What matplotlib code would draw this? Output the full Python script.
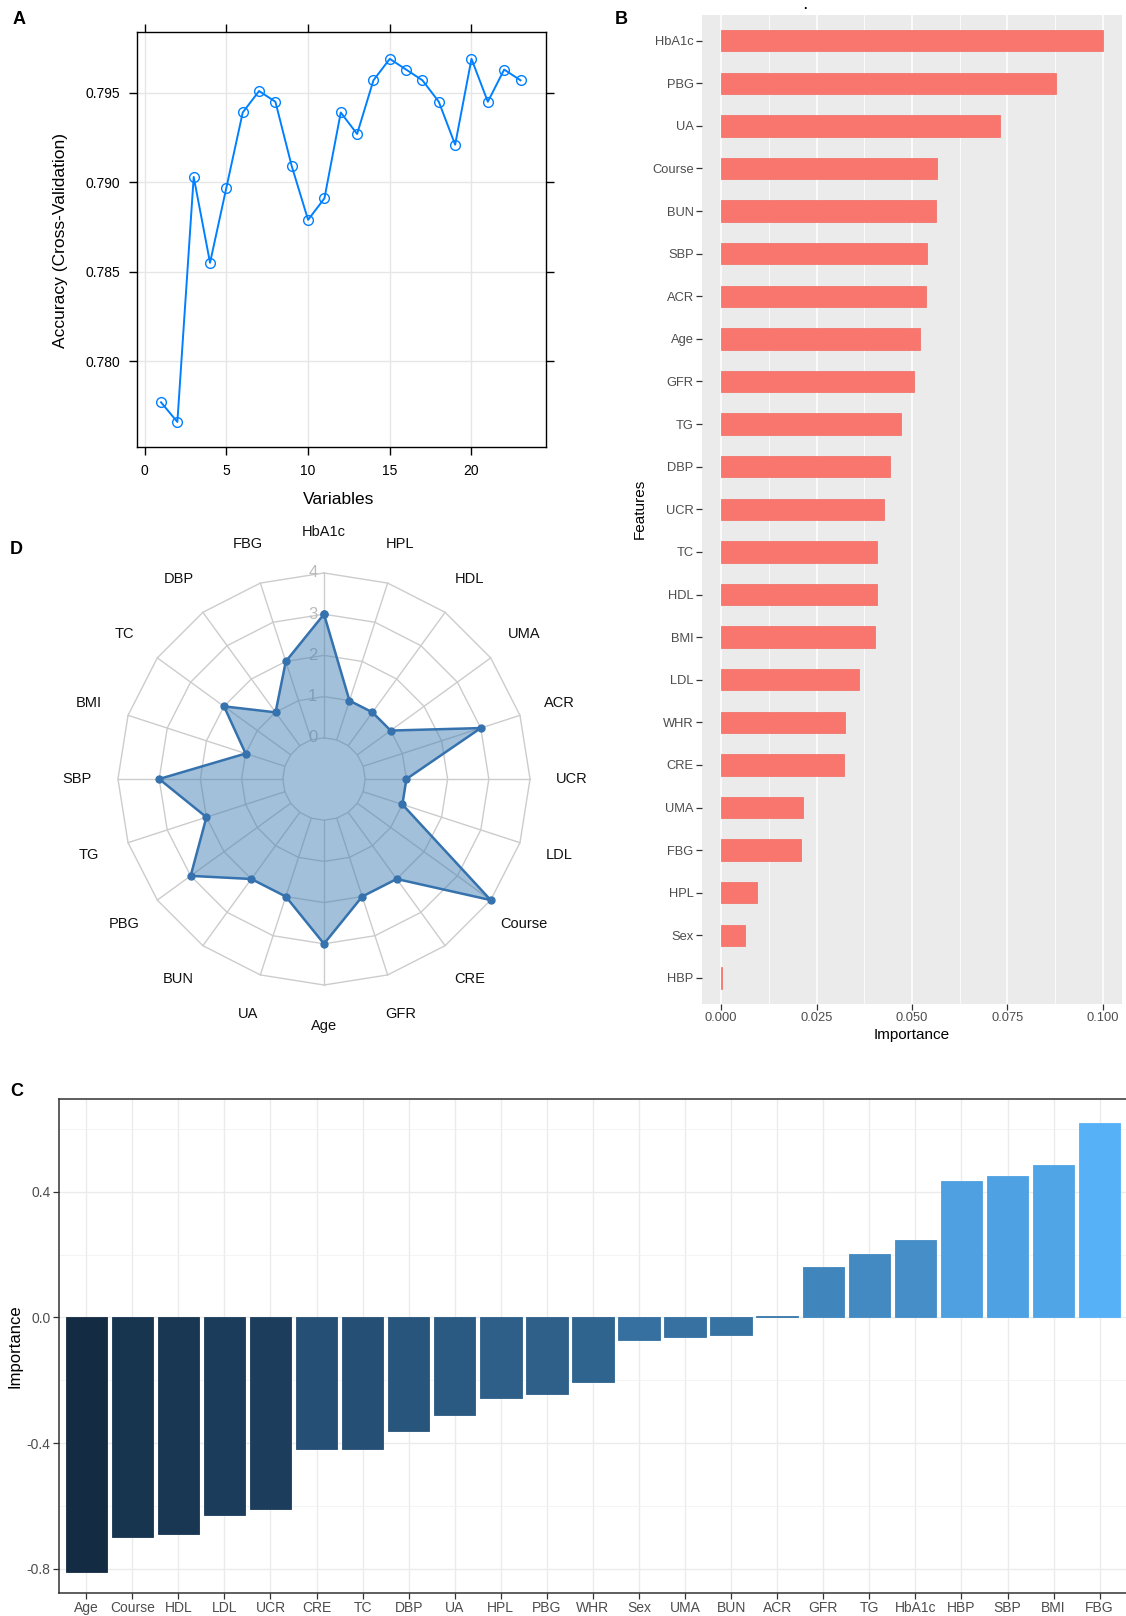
import numpy as np
import matplotlib
matplotlib.use("Agg")
import matplotlib.pyplot as plt
from matplotlib.colors import LinearSegmentedColormap
from matplotlib.ticker import MultipleLocator, FormatStrFormatter

plt.rcParams['font.family'] = ['Liberation Sans', 'DejaVu Sans']
plt.rcParams['axes.unicode_minus'] = False

# ---------------- data ----------------
# A: recursive feature elimination, accuracy vs. number of variables
n_vars = list(range(1, 24))
cv_accuracy = [0.7777, 0.7766, 0.7903, 0.7855, 0.7897, 0.7939, 0.7951, 0.7945,
               0.7909, 0.7879, 0.7891, 0.7939, 0.7927, 0.7957, 0.7969, 0.7963,
               0.7957, 0.7945, 0.7921, 0.7969, 0.7945, 0.7963, 0.7957]

# B: random forest importance
rf_features = ['HbA1c', 'PBG', 'UA', 'Course', 'BUN', 'SBP', 'ACR', 'Age', 'GFR',
               'TG', 'DBP', 'UCR', 'TC', 'HDL', 'BMI', 'LDL', 'WHR', 'CRE', 'UMA',
               'FBG', 'HPL', 'Sex', 'HBP']
rf_importance = [0.1000, 0.0877, 0.0730, 0.0565, 0.0563, 0.0540, 0.0537, 0.0521,
                 0.0504, 0.0472, 0.0442, 0.0426, 0.0409, 0.0409, 0.0403, 0.0361,
                 0.0324, 0.0321, 0.0215, 0.0209, 0.0095, 0.0063, 0.0003]

# D: radar of selection scores
radar_axes = ['HbA1c', 'HPL', 'HDL', 'UMA', 'ACR', 'UCR', 'LDL', 'Course', 'CRE',
              'GFR', 'Age', 'UA', 'BUN', 'PBG', 'TG', 'SBP', 'BMI', 'TC', 'DBP', 'FBG']
radar_scores = [3, 1, 1, 1, 3, 1, 1, 4, 2, 2, 3, 2, 2, 3, 2, 3, 1, 2, 1, 2]
radar_levels = [0, 1, 2, 3, 4]

# C: signed importance (coefficients)
coef_features = ['Age', 'Course', 'HDL', 'LDL', 'UCR', 'CRE', 'TC', 'DBP', 'UA',
                 'HPL', 'PBG', 'WHR', 'Sex', 'UMA', 'BUN', 'ACR', 'GFR', 'TG',
                 'HbA1c', 'HBP', 'SBP', 'BMI', 'FBG']
coef_values = [-0.81, -0.70, -0.69, -0.63, -0.61, -0.42, -0.42, -0.36, -0.31,
               -0.255, -0.245, -0.205, -0.072, -0.062, -0.055, 0.005, 0.16, 0.203,
               0.248, 0.434, 0.449, 0.485, 0.618]

# ---------------- layout helpers ----------------
W, H = 1126, 1616
fig = plt.figure(figsize=(W / 100, H / 100), dpi=100)


def rect(x0, y0, x1, y1):
    return [x0 / W, 1 - y1 / H, (x1 - x0) / W, (y1 - y0) / H]


def ftext(x, y, s, **kw):
    fig.text(x / W, 1 - y / H, s, **kw)


# ---------------- A ----------------
axA = fig.add_axes(rect(137, 32, 546, 447))
axA.plot(n_vars, cv_accuracy, color='#0080FF', lw=1.4, marker='o', ms=7,
         mfc='none', mec='#0080FF', mew=1.0, zorder=3)
axA.set_xlim(-0.47, 24.56)
axA.set_ylim(0.7752, 0.7984)
axA.set_xticks([0, 5, 10, 15, 20])
axA.set_yticks([0.780, 0.785, 0.790, 0.795])
axA.yaxis.set_major_formatter(FormatStrFormatter('%.3f'))
axA.grid(True, color='#E6E6E6', lw=1.0)
axA.set_axisbelow(True)
axA.tick_params(direction='out', length=6, width=1, top=True, right=True,
                labelsize=10, pad=6, colors='black')
for s in axA.spines.values():
    s.set_color('black')
    s.set_linewidth(1.0)
ftext(339, 500, 'Variables', fontsize=12.5, ha='center', va='center')
ftext(61, 240, 'Accuracy (Cross-Validation)', fontsize=12.5, ha='center',
      va='center', rotation=90)

# ---------------- B ----------------
axB = fig.add_axes(rect(702, 15.1, 1122, 1003.5))
axB.set_facecolor('#EBEBEB')
ypos = np.arange(len(rf_features))[::-1]
axB.barh(ypos, rf_importance, height=0.5, color='#F8766D', edgecolor='#F26B62',
         lw=0.5, zorder=3)
axB.set_ylim(-0.6, len(rf_features) - 0.4)
axB.set_xlim(-0.005, 0.105)
axB.set_yticks(ypos)
axB.set_yticklabels(rf_features)
axB.xaxis.set_major_locator(MultipleLocator(0.025))
axB.xaxis.set_minor_locator(MultipleLocator(0.0125))
axB.xaxis.set_major_formatter(FormatStrFormatter('%.3f'))
axB.grid(True, which='major', axis='x', color='white', lw=1.1)
axB.grid(True, which='minor', axis='x', color='white', lw=0.55)
axB.set_axisbelow(True)
for s in axB.spines.values():
    s.set_visible(False)
axB.tick_params(which='major', length=4, width=0.9, color='#333333',
                labelcolor='#4D4D4D', labelsize=9.3, pad=2)
axB.tick_params(which='minor', length=0)
ftext(912, 1035, 'Importance', fontsize=11, ha='center', va='center')
ftext(640, 509, 'Features', fontsize=11, ha='center', va='center', rotation=90)
ftext(805, 9, '.', fontsize=9, ha='center', va='baseline', fontweight='bold')

# ---------------- D (radar) ----------------
axD = fig.add_axes(rect(24, 509, 624, 1049))
axD.set_xlim(-7.28, 7.28)
axD.set_ylim(-6.553, 6.553)
axD.axis('off')
n_ax = len(radar_axes)
theta = 2 * np.pi * np.arange(n_ax) / n_ax
theta_c = np.append(theta, theta[0])
offset = 1.0  # radial offset so that level 0 sits away from the centre

for lvl in radar_levels:
    r = lvl + offset
    axD.plot(r * np.sin(theta_c), r * np.cos(theta_c), color='#CCCCCC', lw=1.0,
             zorder=1)
r_in, r_out = radar_levels[0] + offset, radar_levels[-1] + offset
for t in theta:
    axD.plot([r_in * np.sin(t), r_out * np.sin(t)],
             [r_in * np.cos(t), r_out * np.cos(t)], color='#CCCCCC', lw=1.0,
             zorder=1)

# level numbers sit underneath the filled polygon
for lvl in radar_levels:
    axD.text(-0.27, lvl + offset, str(lvl), color='#BBBBBB', fontsize=12,
             ha='center', va='center', zorder=1.5)

rs = np.array(radar_scores + radar_scores[:1], dtype=float) + offset
axD.fill(rs * np.sin(theta_c), rs * np.cos(theta_c), color='#4682B4', alpha=0.5,
         lw=0, zorder=2)
axD.plot(rs * np.sin(theta_c), rs * np.cos(theta_c), color='#3572AE', lw=1.8,
         marker='o', ms=5, zorder=3)

r_lab = 1.2 * r_out
for name, t in zip(radar_axes, theta):
    axD.text(r_lab * np.sin(t), r_lab * np.cos(t), name, fontsize=10.5,
             ha='center', va='center', color='#111111')

# ---------------- C ----------------
axC = fig.add_axes(rect(58.6, 1099.4, 1127.3, 1593))
cmap = LinearSegmentedColormap.from_list('ggblue', ['#132B43', '#56B1F7'])
vals = np.array(coef_values)
frac = (vals - vals.min()) / (vals.max() - vals.min())
xs = np.arange(len(coef_features))
cols = [cmap(f) for f in frac]
axC.bar(xs, vals, width=0.9, color=cols, edgecolor=cols, lw=0.6, zorder=3)
axC.set_xlim(-0.6, len(coef_features) - 0.4)
axC.set_ylim(-0.877, 0.694)
axC.set_xticks(xs)
axC.set_xticklabels(coef_features)
axC.yaxis.set_major_locator(MultipleLocator(0.4))
axC.yaxis.set_minor_locator(MultipleLocator(0.2))
axC.yaxis.set_major_formatter(FormatStrFormatter('%.1f'))
axC.grid(True, which='major', color='#EBEBEB', lw=1.0)
axC.grid(True, which='minor', axis='y', color='#F2F2F2', lw=0.6)
axC.set_axisbelow(True)
for s in axC.spines.values():
    s.set_color('#333333')
    s.set_linewidth(1.1)
axC.tick_params(which='major', length=4, width=0.9, color='#333333',
                labelcolor='#4D4D4D', labelsize=10, pad=2)
axC.tick_params(which='minor', length=0)
ftext(15.3, 1346, 'Importance', fontsize=12, ha='center', va='center', rotation=90)

# ---------------- panel letters ----------------
for letter, (px, py) in {'A': (19, 20), 'B': (621, 19), 'C': (16.5, 1092),
                         'D': (16.5, 549)}.items():
    ftext(px, py, letter, fontsize=13, fontweight='bold', ha='center', va='center')

fig.savefig('out.png', dpi=100, facecolor='white')
